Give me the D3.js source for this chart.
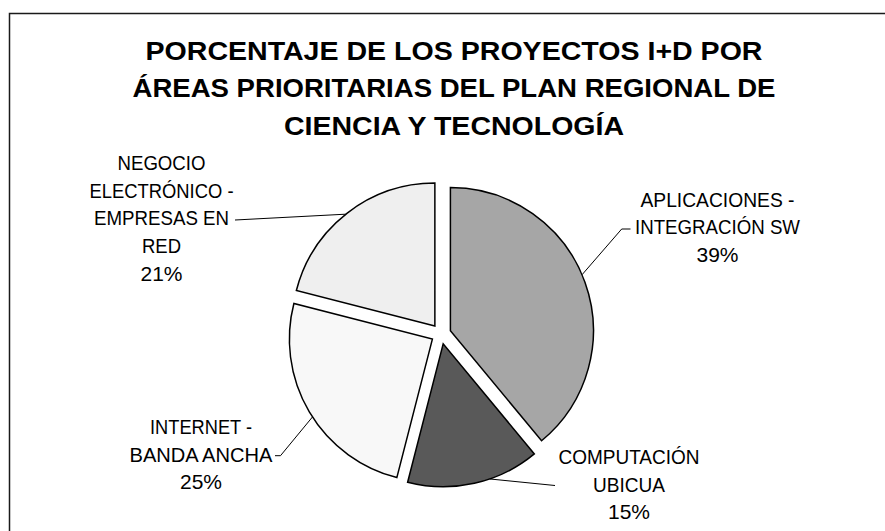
<!DOCTYPE html>
<html>
<head>
<meta charset="utf-8">
<script src="https://cdn.jsdelivr.net/npm/d3@7"></script>
<style>
  html, body { margin: 0; padding: 0; background: #fff; }
  text { font-family: Arial, "Liberation Sans", sans-serif; fill: #000; }
</style>
</head>
<body>
<svg id="chart" width="885" height="531"></svg>
<script>
// data
var categories = ["APLICACIONES - INTEGRACIÓN SW", "COMPUTACIÓN UBICUA", "INTERNET - BANDA ANCHA", "NEGOCIO ELECTRÓNICO - EMPRESAS EN RED"];
var values = [39, 15, 25, 21];
var labelLines = [
  ["APLICACIONES -", "INTEGRACIÓN SW"],
  ["COMPUTACIÓN", "UBICUA"],
  ["INTERNET -", "BANDA ANCHA"],
  ["NEGOCIO", "ELECTRÓNICO -", "EMPRESAS EN", "RED"]
];
var titleLines = ["PORCENTAJE DE LOS PROYECTOS I+D POR", "ÁREAS PRIORITARIAS DEL PLAN REGIONAL DE", "CIENCIA Y TECNOLOGÍA"];
var fills = ["#a6a6a6", "#595959", "#f8f8f8", "#efefef"];

// layout (label boxes and leader lines)
var labelPos = [
  {x: 717.5, y: 206.7, widths: [154, 165], leaderAngle: 67, path: [[621.7, 229], [630.5, 229]]},
  {x: 629, y: 464, widths: [141, 72], leaderAngle: 161, path: [[555, 485.5]]},
  {x: 201, y: 434, widths: [102, 143], leaderAngle: 237, path: [[280.5, 455.7], [275, 455.7]]},
  {x: 161.5, y: 170, widths: [88, 144, 135, 39], leaderAngle: 321.5, path: [[235, 220]]}
];
var titleWidths = [617, 643, 340];

var svg = d3.select("#chart");

// chart frame (runs off the right and bottom edges)
svg.append("rect").attr("x", 9.5).attr("y", 13.5).attr("width", 900).attr("height", 600)
  .attr("fill", "none").attr("stroke", "#1a1a1a").attr("stroke-width", 1.5);

// title
svg.append("g").selectAll("text").data(titleLines).join("text")
  .attr("x", 454).attr("y", function(d, i) { return 59.5 + i * 37.8; })
  .attr("text-anchor", "middle").attr("font-size", "25px").attr("font-weight", "bold")
  .attr("textLength", function(d, i) { return titleWidths[i]; })
  .attr("lengthAdjust", "spacingAndGlyphs")
  .text(function(d) { return d; });

var cx = 441, cy = 334, r = 143, explode = 10;
var total = d3.sum(values);
var pie = d3.pie().sort(null).value(function(d) { return d; });
var arc = d3.arc().innerRadius(0).outerRadius(r);
var arcs = pie(values);

var g = svg.append("g").attr("transform", "translate(" + cx + "," + cy + ")");

function offset(d) {
  var a = (d.startAngle + d.endAngle) / 2;
  return [Math.sin(a) * explode, -Math.cos(a) * explode];
}

g.selectAll("path.slice").data(arcs).join("path")
  .attr("class", "slice")
  .attr("d", arc)
  .attr("transform", function(d) { var o = offset(d); return "translate(" + o[0] + "," + o[1] + ")"; })
  .attr("fill", function(d, i) { return fills[i]; })
  .attr("stroke", "#000").attr("stroke-width", 1.5).attr("stroke-linejoin", "miter");

// leader lines
var line = d3.line();
svg.append("g").selectAll("path").data(arcs).join("path")
  .attr("fill", "none").attr("stroke", "#000").attr("stroke-width", 1)
  .attr("d", function(d, i) {
    var o = offset(d);
    var a = labelPos[i].leaderAngle * Math.PI / 180;
    var start = [cx + o[0] + Math.sin(a) * r, cy + o[1] - Math.cos(a) * r];
    return line([start].concat(labelPos[i].path));
  });

// data labels
var pct = function(v) { return Math.round(v / total * 100) + "%"; };
var lg = svg.append("g");
arcs.forEach(function(d, i) {
  var p = labelPos[i];
  var lines = labelLines[i];
  var t = lg.append("g");
  lines.forEach(function(s, j) {
    t.append("text").attr("x", p.x).attr("y", p.y + j * 27.7)
      .attr("text-anchor", "middle").attr("font-size", "21px")
      .attr("textLength", p.widths[j]).attr("lengthAdjust", "spacingAndGlyphs")
      .text(s);
  });
  t.append("text").attr("x", p.x).attr("y", p.y + lines.length * 27.7)
    .attr("text-anchor", "middle").attr("font-size", "21px")
    .text(pct(d.value));
});
</script>
</body>
</html>
